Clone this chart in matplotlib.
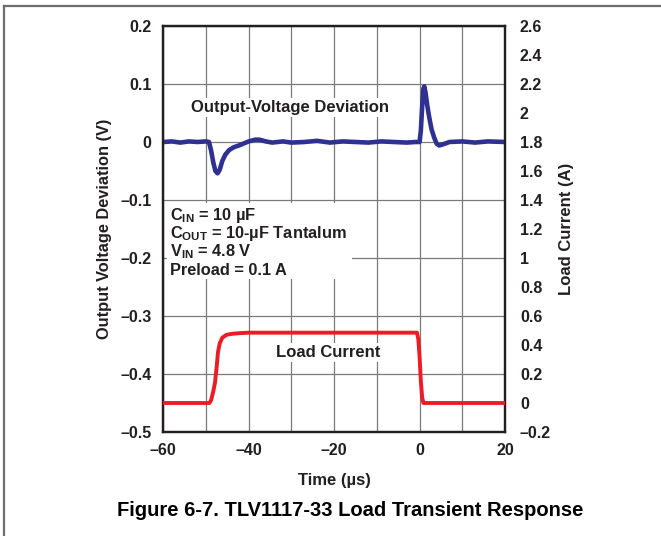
import matplotlib
matplotlib.use("Agg")
import matplotlib.pyplot as plt
from matplotlib.patches import Rectangle
from matplotlib.lines import Line2D
from matplotlib.ticker import FixedLocator, FixedFormatter

plt.rcParams['font.family'] = ['Liberation Sans', 'DejaVu Sans']
plt.rcParams['font.weight'] = 'bold'
plt.rcParams['mathtext.fontset'] = 'custom'
plt.rcParams['mathtext.rm'] = 'Liberation Sans'
plt.rcParams['mathtext.bf'] = 'Liberation Sans:bold'

# output-voltage deviation (V) vs time (us)
v_time = [-60, -58, -56, -54, -52, -50, -49.3, -48.8, -48.3, -47.8, -47.3, -46.8,
          -46.2, -45.5, -44.6, -43.5, -42.3, -41, -40, -38.5, -37.5, -36, -34.5,
          -32, -30, -27, -24, -21, -18, -15, -12, -9, -6, -3, -1, 0.0, 0.3, 0.6,
          0.9, 1.1, 1.4, 1.8, 2.2, 2.8, 3.4, 4.0, 4.6, 5.5, 7, 10, 13, 16, 20]
v_dev = [0.000, 0.001, -0.001, 0.001, 0.000, 0.001, 0.000, -0.015, -0.035, -0.050,
         -0.054, -0.048, -0.033, -0.022, -0.014, -0.009, -0.006, -0.002, 0.001,
         0.004, 0.004, 0.001, -0.001, 0.001, -0.001, 0.000, 0.002, -0.001, 0.001,
         0.000, -0.001, 0.001, 0.000, -0.001, 0.000, 0.000, 0.020, 0.060, 0.092,
         0.096, 0.085, 0.063, 0.045, 0.022, 0.008, -0.003, -0.006, -0.004, 0.000,
         0.001, -0.001, 0.001, 0.000]

# load current (A) vs time (us)
i_time = [-60, -49.2, -48.8, -48.3, -47.9, -47.5, -47.2, -46.8, -46.2, -45.2, -44,
          -42, -40, -20, -0.6, -0.3, 0.0, 0.3, 0.6, 0.9, 20]
i_load = [0, 0, 0.02, 0.08, 0.14, 0.25, 0.35, 0.41, 0.45, 0.47, 0.477, 0.482,
          0.485, 0.485, 0.485, 0.44, 0.32, 0.15, 0.04, 0.0, 0]

x_ticks = [-60, -50, -40, -30, -20, -10, 0, 10, 20]
x_labels = ['–60', '', '–40', '', '–20', '', '0', '', '20']
left_ticks = [0.2, 0.1, 0, -0.1, -0.2, -0.3, -0.4, -0.5]
left_labels = ['0.2', '0.1', '0', '–0.1', '–0.2', '–0.3', '–0.4', '–0.5']
right_ticks = [2.6, 2.4, 2.2, 2.0, 1.8, 1.6, 1.4, 1.2, 1.0, 0.8, 0.6, 0.4, 0.2, 0, -0.2]
right_labels = ['2.6', '2.4', '2.2', '2', '1.8', '1.6', '1.4', '1.2', '1', '0.8',
                '0.6', '0.4', '0.2', '0', '–0.2']

conditions = [r'C$_\mathbf{IN}$ = 10 µF',
              r'C$_\mathbf{OUT}$ = 10-µF Tantalum',
              r'V$_\mathbf{IN}$ = 4.8 V',
              'Preload = 0.1 A']

blue = '#2E3192'
red = '#ED1C24'
dark = '#231F20'

fig = plt.figure(figsize=(6.61, 5.36), dpi=100)
ax = fig.add_axes([163.3 / 661, 1 - 432 / 536, 341.7 / 661, 406 / 536])
ax2 = ax.twinx()

ax.plot(v_time, v_dev, color=blue, lw=3.3, solid_capstyle='round', zorder=3)
ax2.plot(i_time, i_load, color=red, lw=2.8, solid_capstyle='round', zorder=3)

ax.set_xlim(-60, 20)
ax.set_ylim(-0.5, 0.2)
ax2.set_ylim(-0.2, 2.6)

ax.xaxis.set_major_locator(FixedLocator(x_ticks))
ax.xaxis.set_major_formatter(FixedFormatter(x_labels))
ax.yaxis.set_major_locator(FixedLocator(left_ticks))
ax.yaxis.set_major_formatter(FixedFormatter(left_labels))
ax2.yaxis.set_major_locator(FixedLocator(right_ticks))
ax2.yaxis.set_major_formatter(FixedFormatter(right_labels))

ax.grid(True, color='#7a7a7a', lw=0.9)
ax.tick_params(axis='both', length=0, labelsize=11.5, colors=dark)
ax.tick_params(axis='y', pad=8.6)
ax.tick_params(axis='x', pad=8.0)
ax2.tick_params(axis='y', length=0, labelsize=11.5, colors=dark, pad=10.8)

for a in (ax, ax2):
    for s in a.spines.values():
        s.set_linewidth(1.6)
        s.set_color(dark)

ax.set_xlabel('Time (µs)', fontsize=12, fontweight='bold', color=dark)
ax.xaxis.set_label_coords(0.5, -(480 - 432) / 406)
ax.xaxis.label.set_verticalalignment('center')
ax.set_ylabel('Output Voltage Deviation (V)', fontsize=11.8, fontweight='bold', color=dark)
ax.yaxis.set_label_coords((104 - 163.3) / 341.7, 0.5)
ax.yaxis.label.set_verticalalignment('center')
ax2.set_ylabel('Load Current (A)', fontsize=12, fontweight='bold', color=dark)
ax2.yaxis.set_label_coords((567 - 163.3) / 341.7, 0.5)
ax2.yaxis.label.set_verticalalignment('center')

ax.text(-30.3, 0.06, 'Output-Voltage Deviation', fontsize=12, fontweight='bold',
        color=dark, ha='center', va='center', zorder=4,
        bbox=dict(facecolor='white', edgecolor='none', pad=1.5))
ax.text(-21.5, -0.363, 'Load Current', fontsize=12, fontweight='bold',
        color=dark, ha='center', va='center', zorder=4,
        bbox=dict(facecolor='white', edgecolor='none', pad=1.5))

ax.add_patch(Rectangle((-59.1, -0.236), 43.3, 0.130, facecolor='white',
                       edgecolor='none', zorder=2))
for k, line in enumerate(conditions):
    ax.text(-58.4, -0.134 - k * 0.0317, line, fontsize=11.8, fontweight='bold',
            color=dark, ha='left', va='baseline', zorder=4)

fig.text(350 / 661, 1 - 510 / 536, 'Figure 6-7. TLV1117-33 Load Transient Response',
         fontsize=14.5, fontweight='bold', color='black', ha='center', va='center')

# page frame (top and left edges)
fig.add_artist(Line2D([4.3 / 661, 1], [1 - 5.7 / 536, 1 - 5.7 / 536],
                      transform=fig.transFigure, color='#6d6d6d', lw=1.6))
fig.add_artist(Line2D([4.3 / 661, 4.3 / 661], [0, 1 - 5.7 / 536],
                      transform=fig.transFigure, color='#6d6d6d', lw=1.6))

fig.savefig('out.png', dpi=100)
